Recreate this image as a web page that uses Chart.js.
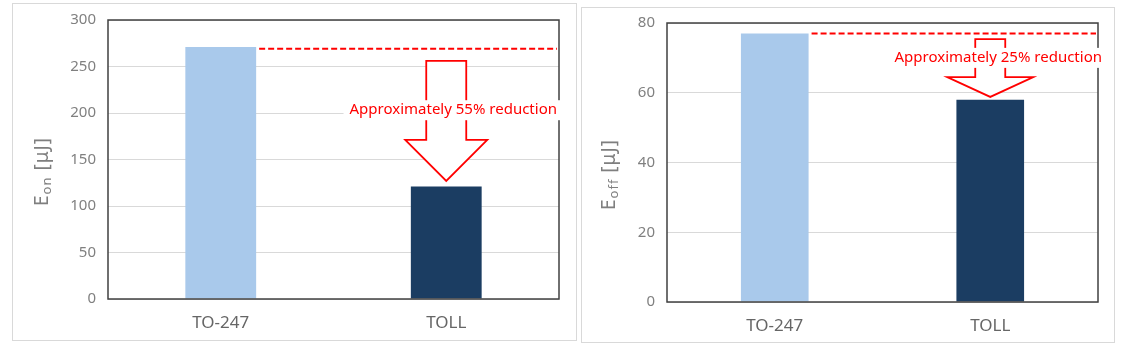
<!DOCTYPE html>
<html>
<head>
<meta charset="utf-8">
<script src="https://cdn.jsdelivr.net/npm/chart.js@4/dist/chart.umd.min.js"></script>
<style>
  body { margin: 0; background: #fff; width: 1130px; height: 352px; position: relative; overflow: hidden; }
  .box { position: absolute; border: 1px solid #d9d9d9; background: #fff; }
  canvas { display: block; }
</style>
</head>
<body>
<div class="box" style="left:12px;top:3px;width:563px;height:336px"><canvas id="chartOn" width="563" height="336"></canvas></div>
<div class="box" style="left:581px;top:7px;width:532px;height:334px"><canvas id="chartOff" width="532" height="334"></canvas></div>
<script>
// data
const packages = ['TO-247', 'TOLL'];
const eonValues = [271, 121];
const eoffValues = [77, 58];
const eonTicks = { max: 300, step: 50 };
const eoffTicks = { max: 80, step: 20 };
const eonLabel = 'Approximately 55% reduction';
const eoffLabel = 'Approximately 25% reduction';

const barColors = ['#a9c9eb', '#1b3d62'];
const font = '"Noto Sans", "DejaVu Sans", sans-serif';

// frame, dashed reference line, arrow, label and y title
const deco = {
  id: 'deco',
  afterDatasetsDraw(chart, args, o) {
    const { ctx, chartArea: a, scales: { x, y } } = chart;
    ctx.save();

    ctx.strokeStyle = '#404040';
    ctx.lineWidth = 1.5;
    ctx.strokeRect(a.left, a.top, a.right - a.left, a.bottom - a.top);

    const b0 = chart.getDatasetMeta(0).data[0];
    const yRef = y.getPixelForValue(o.refValue);
    ctx.strokeStyle = '#ff0000';
    ctx.lineWidth = 2;
    ctx.setLineDash([6, 3]);
    ctx.beginPath();
    ctx.moveTo(b0.x + b0.width / 2 + 3, yRef);
    ctx.lineTo(a.right - 2, yRef);
    ctx.stroke();
    ctx.setLineDash([]);

    const cx = x.getPixelForValue(1);
    const yTop = y.getPixelForValue(o.arrowTop);
    const yHead = y.getPixelForValue(o.arrowHead);
    const yTip = y.getPixelForValue(o.arrowTip);
    ctx.beginPath();
    ctx.moveTo(cx - o.shaft, yTop);
    ctx.lineTo(cx + o.shaft, yTop);
    ctx.lineTo(cx + o.shaft, yHead);
    ctx.lineTo(cx + o.head, yHead);
    ctx.lineTo(cx, yTip);
    ctx.lineTo(cx - o.head, yHead);
    ctx.lineTo(cx - o.shaft, yHead);
    ctx.closePath();
    ctx.fillStyle = '#fff';
    ctx.fill();
    ctx.lineWidth = 1.8;
    ctx.stroke();

    ctx.font = '15px ' + font;
    const ty = y.getPixelForValue(o.labelValue);
    const tx = cx + o.labelShift;
    const tw = ctx.measureText(o.label).width;
    ctx.fillStyle = '#fff';
    ctx.fillRect(tx - tw / 2 - 6, ty - 10, tw + 12, 20);
    ctx.fillStyle = '#ff0000';
    ctx.textAlign = 'center';
    ctx.textBaseline = 'middle';
    ctx.fillText(o.label, tx, ty);

    // y title with subscript
    const parts = [['E', '19px ', 0], [o.sub, '13px ', 4], [' [μJ]', '19px ', 0]];
    ctx.letterSpacing = '1px';
    let total = 0;
    parts.forEach(p => { ctx.font = p[1] + font; total += ctx.measureText(p[0]).width; });
    ctx.translate(o.titleX, (a.top + a.bottom) / 2 + 12);
    ctx.rotate(-Math.PI / 2);
    ctx.fillStyle = '#7f7f7f';
    ctx.textAlign = 'left';
    let px = -total / 2;
    parts.forEach(p => {
      ctx.font = p[1] + font;
      ctx.fillText(p[0], px, p[2]);
      px += ctx.measureText(p[0]).width;
    });
    ctx.restore();
  }
};

function makeChart(id, values, ticks, pad, yWidth, xHeight, decoOpts) {
  new Chart(document.getElementById(id), {
    type: 'bar',
    data: {
      labels: packages,
      datasets: [{ data: values, backgroundColor: barColors, barPercentage: 0.314, categoryPercentage: 1 }]
    },
    options: {
      responsive: false,
      animation: false,
      layout: { padding: pad },
      plugins: { legend: { display: false }, tooltip: { enabled: false }, deco: decoOpts },
      scales: {
        x: {
          grid: { display: false },
          border: { display: false },
          ticks: { color: '#666', font: { family: font, size: 17 }, padding: 6 },
          afterFit: s => { s.height = xHeight; }
        },
        y: {
          min: 0, max: ticks.max,
          grid: { color: '#d9d9d9', drawTicks: false },
          border: { display: false },
          ticks: { stepSize: ticks.step, color: '#808080', font: { family: font, size: 15 }, padding: 12 },
          afterFit: s => { s.width = yWidth; s.paddingTop = 0; s.paddingBottom = 0; }
        }
      }
    },
    plugins: [deco]
  });
}

makeChart('chartOn', eonValues, eonTicks, { left: 0, right: 17, top: 16, bottom: 0 }, 95, 41, {
  refValue: 269, arrowTop: 256, arrowHead: 171, arrowTip: 127, shaft: 20, head: 41,
  label: eonLabel, labelValue: 203, labelShift: 7, sub: 'on', titleX: 30
});
makeChart('chartOff', eoffValues, eoffTicks, { left: 0, right: 16, top: 15, bottom: 0 }, 85, 40, {
  refValue: 77, arrowTop: 75.4, arrowHead: 64.5, arrowTip: 58.8, shaft: 15, head: 43,
  label: eoffLabel, labelValue: 70, labelShift: 8, sub: 'off', titleX: 28
});
</script>
</body>
</html>
